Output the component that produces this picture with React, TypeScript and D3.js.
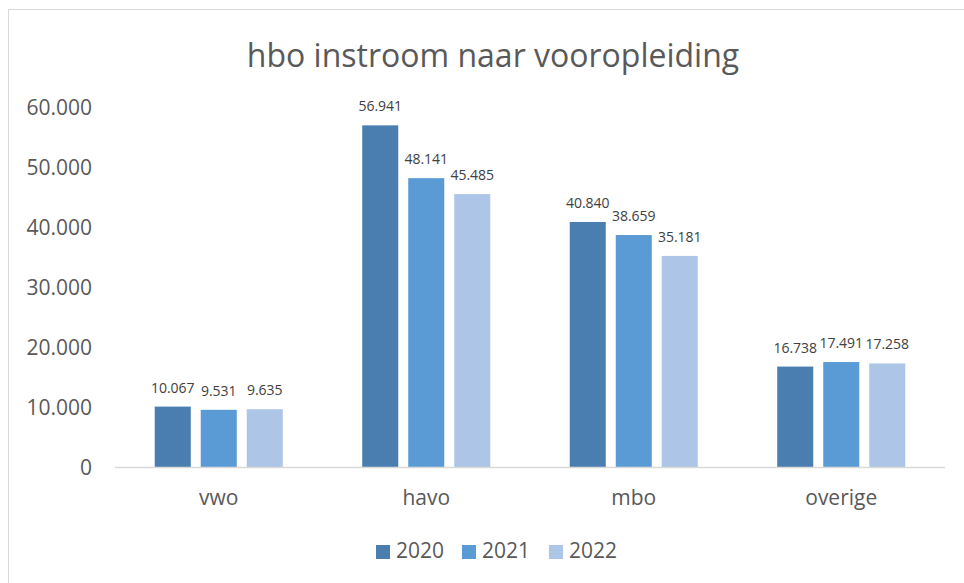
import * as React from "react";
import * as d3 from "d3";

const categories = ["vwo", "havo", "mbo", "overige"];
const years = ["2020", "2021", "2022"];
const values2020 = [10067, 56941, 40840, 16738];
const values2021 = [9531, 48141, 38659, 17491];
const values2022 = [9635, 45485, 35181, 17258];
const yTicks = [0, 10000, 20000, 30000, 40000, 50000, 60000];
const colors = ["#4a7eb0", "#5b9bd5", "#adc5e6"];

const width = 964;
const height = 583;
const font = "'Open Sans', sans-serif";
const textColor = "#595959";

// dutch style thousands separator
const fmt = (v: number) => (v === 0 ? "0" : d3.format(",")(v).replace(/,/g, "."));

export default function App() {
  const series = [values2020, values2021, values2022];

  const x0 = d3.scaleBand<string>()
    .domain(categories)
    .range([115, 945])
    .paddingInner(0.383)
    .paddingOuter(0.1915);

  const x1 = d3.scaleBand<string>()
    .domain(years)
    .range([0, x0.bandwidth()])
    .paddingInner(0.217)
    .paddingOuter(0);

  const y = d3.scaleLinear().domain([0, 60000]).range([467, 107]);

  const legendX = [376, 462, 549];

  return (
    <div style={{ position: "absolute", left: 0, top: 0 }}>
      <svg width={width} height={height} style={{ display: "block", background: "#fff" }}>
        <rect x={8.5} y={9.5} width={1000} height={1000} fill="#fff" stroke="#d9d9d9" />
        <text x={493} y={67} textAnchor="middle" fontFamily={font} fontSize={32} fill={textColor}>
          hbo instroom naar vooropleiding
        </text>

        {/* y axis labels */}
        <g>
          {yTicks.map(t => (
            <text key={t} x={92} y={y(t)} dy="0.36em" textAnchor="end" fontFamily={font} fontSize={21} fill={textColor}>
              {fmt(t)}
            </text>
          ))}
        </g>

        {/* bars */}
        {categories.map((c, ci) => (
          <g key={c} transform={`translate(${x0(c)},0)`}>
            {years.map((yr, si) => {
              const v = series[si][ci];
              const bx = x1(yr)!;
              return (
                <g key={yr}>
                  <rect x={bx} y={y(v)} width={x1.bandwidth()} height={y(0) - y(v)} fill={colors[si]} />
                  <text x={bx + x1.bandwidth() / 2} y={y(v) - 14} textAnchor="middle" fontFamily={font} fontSize={14} fill="#404040">
                    {fmt(v)}
                  </text>
                </g>
              );
            })}
          </g>
        ))}

        <line x1={115} x2={945} y1={467.5} y2={467.5} stroke="#d9d9d9" strokeWidth={1.5} />

        {categories.map(c => (
          <text key={c} x={x0(c)! + x0.bandwidth() / 2} y={505} textAnchor="middle" fontFamily={font} fontSize={21} fill={textColor}>
            {c}
          </text>
        ))}

        {/* legend */}
        {years.map((yr, i) => (
          <g key={yr}>
            <rect x={legendX[i]} y={545} width={14} height={14} fill={colors[i]} />
            <text x={legendX[i] + 20} y={558} fontFamily={font} fontSize={21} fill={textColor}>
              {yr}
            </text>
          </g>
        ))}
      </svg>
    </div>
  );
}
